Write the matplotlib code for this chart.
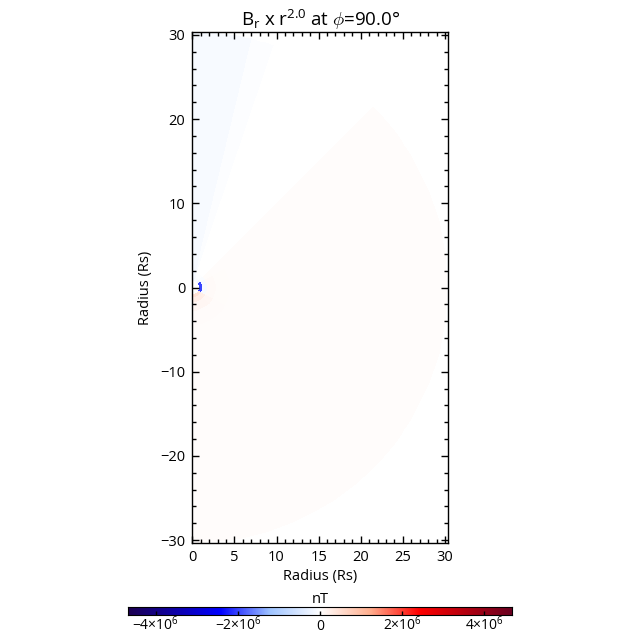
import numpy as np
import matplotlib
matplotlib.use("Agg")
import matplotlib.pyplot as plt
from matplotlib.colors import LinearSegmentedColormap
from matplotlib.ticker import MultipleLocator, FixedLocator

plt.rcParams['font.family'] = ['Open Sans', 'DejaVu Sans']
plt.rcParams['mathtext.fontset'] = 'custom'
plt.rcParams['mathtext.rm'] = 'Open Sans'
plt.rcParams['mathtext.it'] = 'Open Sans:italic'
plt.rcParams['mathtext.default'] = 'rm'

# Sector edges: colatitude (degrees from +y axis) and radius (Rs)
colat_edges = [0, 13.5, 18.7, 45, 60, 120, 135, 180]
radius_edges = [0.8, 1.2, 1.8, 2.8, 4.5, 30.3]
# Field values (nT), rows = radius band, columns = sector
field_values = [
    [-0.20e6, -0.15e6, -0.06e6, -0.18e6, -2.00e6, 0.40e6, 0.45e6],
    [-0.12e6, -0.10e6, -0.02e6, -0.06e6, -0.10e6, 0.25e6, 0.28e6],
    [-0.11e6, -0.06e6, 0.0e6, 0.05e6, 0.08e6, 0.12e6, 0.13e6],
    [-0.10e6, -0.05e6, 0.0e6, 0.04e6, 0.05e6, 0.06e6, 0.06e6],
    [-0.10e6, -0.04e6, 0.0e6, 0.04e6, 0.04e6, 0.04e6, 0.04e6],
]
vlim = 4.68e6
cbar_ticks = [-4e6, -2e6, 0, 2e6, 4e6]
cbar_labels = [r'$-4{\times}10^{6}$', r'$-2{\times}10^{6}$', '0', r'$2{\times}10^{6}$', r'$4{\times}10^{6}$']
cmap_colors = [(0.0, '#1c0050'), (0.24, '#0000ff'), (0.37, '#9fc4ff'), (0.5, '#ffffff'),
               (0.63, '#ffb090'), (0.76, '#ff0000'), (1.0, '#6a0020')]

cmap = LinearSegmentedColormap.from_list('bwr_dark', cmap_colors, N=1024)

W = H = 640
fig = plt.figure(figsize=(6.4, 6.4), dpi=100, facecolor='white')
ax = fig.add_axes([192.3/W, 1-543/H, 256/W, 511/H])

# Subdivide each sector so the cells follow the arcs
n_sub = 8
th = np.concatenate([np.linspace(a, b, n_sub, endpoint=False) for a, b in zip(colat_edges[:-1], colat_edges[1:])] + [[colat_edges[-1]]])
t_mid_idx = np.repeat(np.arange(len(colat_edges)-1), n_sub)
r = np.array(radius_edges)
T, R = np.meshgrid(np.radians(th), r)
X = R*np.sin(T)
Y = R*np.cos(T)
C = np.array(field_values)[:, t_mid_idx]
ax.pcolormesh(X, Y, C, cmap=cmap, vmin=-vlim, vmax=vlim, shading='flat', edgecolors='none')

ax.set_xlim(0, 30.4)
ax.set_ylim(-30.35, 30.35)
ax.xaxis.set_major_locator(MultipleLocator(5))
ax.xaxis.set_minor_locator(MultipleLocator(1))
ax.yaxis.set_major_locator(MultipleLocator(10))
ax.yaxis.set_minor_locator(MultipleLocator(2))
ax.tick_params(which='major', direction='in', length=5, width=1, top=True, right=True, labelsize=10.5, pad=5)
ax.tick_params(which='minor', direction='in', length=3, width=1, top=True, right=True)
for s in ax.spines.values():
    s.set_linewidth(1)
ax.set_xlabel('Radius (Rs)', fontsize=10.5, labelpad=3)
ax.set_ylabel('Radius (Rs)', fontsize=10.5, labelpad=5)
ax.set_title(r'B$_r$ x r$^{2.0}$ at $\mathit{\phi}$=90.0$\degree$', fontsize=13.5, pad=4)

cax = fig.add_axes([128/W, 1-615/H, 384/W, 8/H])
grad = np.linspace(-vlim, vlim, 384).reshape(1, -1)
cax.imshow(grad, aspect='auto', cmap=cmap, vmin=-vlim, vmax=vlim, extent=[-vlim, vlim, 0, 1])
cax.set_yticks([])
cax.xaxis.set_major_locator(FixedLocator(cbar_ticks))
cax.set_xticklabels(cbar_labels)
cax.tick_params(axis='x', direction='in', length=3, width=1, labelsize=10, pad=11)
for lab in cax.get_xticklabels():
    lab.set_verticalalignment('baseline')
cax.set_title('nT', fontsize=10.5, pad=3)

fig.savefig('out.png', dpi=100, facecolor='white')
